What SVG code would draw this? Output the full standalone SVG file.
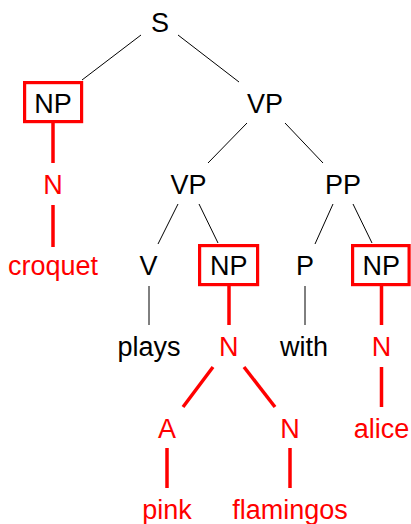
<svg xmlns="http://www.w3.org/2000/svg" width="411" height="524" viewBox="0 0 411 524">
<style>
text{font-family:"Liberation Sans",Arial,sans-serif;font-size:27px;text-anchor:middle}
.k{fill:#000}
.r{fill:#ff0000}
.bl{stroke:#000;stroke-width:1;fill:none}
.rl{stroke:#ff0000;stroke-width:3.5;fill:none}
.box{stroke:#ff0000;stroke-width:3.2;fill:none}
</style>
<rect width="411" height="524" fill="#fff"/>
<g id="connectors">
<line class="bl" x1="141" y1="35" x2="82" y2="80"/>
<line class="bl" x1="178" y1="35" x2="239" y2="82"/>
<line class="bl" x1="247" y1="123" x2="208" y2="163"/>
<line class="bl" x1="285" y1="123" x2="323" y2="163"/>
<line class="bl" x1="178" y1="204" x2="158" y2="244"/>
<line class="bl" x1="199" y1="204" x2="218" y2="243"/>
<line class="bl" x1="333" y1="204" x2="315" y2="244"/>
<line class="bl" x1="353" y1="204" x2="372" y2="243"/>
<line class="bl" x1="149" y1="286" x2="149" y2="325"/>
<line class="bl" x1="305" y1="286" x2="305" y2="325"/>
<line class="rl" x1="53" y1="123" x2="53" y2="163"/>
<line class="rl" x1="53" y1="205" x2="53" y2="247"/>
<line class="rl" x1="229" y1="286" x2="229" y2="325"/>
<line class="rl" x1="381.5" y1="286" x2="381.5" y2="325"/>
<line class="rl" x1="213" y1="367" x2="183" y2="407"/>
<line class="rl" x1="244" y1="367" x2="275" y2="407"/>
<line class="rl" x1="381.5" y1="367" x2="381.5" y2="407"/>
<line class="rl" x1="167" y1="448" x2="167" y2="488"/>
<line class="rl" x1="290" y1="448" x2="290" y2="488"/>
</g>
<g id="S"><text class="k" x="160" y="31.5">S</text></g>
<g id="NP1"><rect class="box" x="24.6" y="82.6" width="57" height="39"/><text class="k" x="53" y="112.5">NP</text></g>
<g id="VP1"><text class="k" x="265" y="112.5">VP</text></g>
<g id="N1"><text class="r" x="53" y="194">N</text></g>
<g id="croquet"><text class="r" x="53" y="275">croquet</text></g>
<g id="VP2"><text class="k" x="188.5" y="194">VP</text></g>
<g id="PP"><text class="k" x="343" y="194">PP</text></g>
<g id="V"><text class="k" x="148.5" y="275">V</text></g>
<g id="NP2"><rect class="box" x="199.6" y="245.6" width="58" height="39"/><text class="k" x="228.7" y="275">NP</text></g>
<g id="P"><text class="k" x="305" y="275">P</text></g>
<g id="NP3"><rect class="box" x="352.6" y="245.6" width="56.5" height="39"/><text class="k" x="381.2" y="275">NP</text></g>
<g id="plays"><text class="k" x="149" y="356">plays</text></g>
<g id="N2"><text class="r" x="228.7" y="356">N</text></g>
<g id="with"><text class="k" x="304" y="356">with</text></g>
<g id="N3"><text class="r" x="381.5" y="356">N</text></g>
<g id="A"><text class="r" x="167" y="438">A</text></g>
<g id="N4"><text class="r" x="290" y="438">N</text></g>
<g id="alice"><text class="r" x="381.5" y="438">alice</text></g>
<g id="pink"><text class="r" x="167" y="519">pink</text></g>
<g id="flamingos"><text class="r" x="290" y="519">flamingos</text></g>
</svg>
